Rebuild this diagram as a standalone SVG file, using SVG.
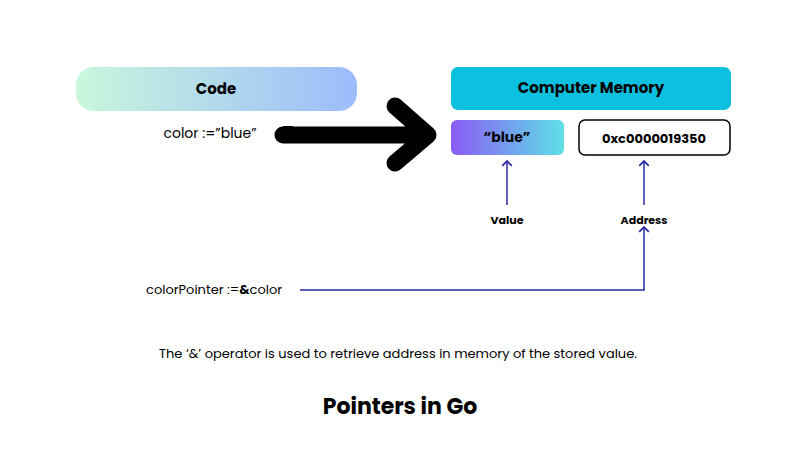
<svg xmlns="http://www.w3.org/2000/svg" width="800" height="450" viewBox="0 0 800 450">
<style>
text{font-family:Poppins,"Inter","Liberation Sans",sans-serif;fill:#000}
.b{font-weight:700}
.c{stroke:#2a2aa8;stroke-width:1.5;fill:none}
</style>
<defs>
<linearGradient id="g1" x1="0" x2="1"><stop offset="0" stop-color="#c8f7dc"/><stop offset="1" stop-color="#9bbcfb"/></linearGradient>
<linearGradient id="g2" x1="0" x2="1"><stop offset="0" stop-color="#8a5cf6"/><stop offset="1" stop-color="#5ee0e6"/></linearGradient>
<marker id="ah" viewBox="0 0 10 10" refX="5" refY="5" markerWidth="8" markerHeight="8" orient="auto"><path d="M1,1 L5,5 L1,9" fill="none" stroke="#2a2aa8" stroke-width="1.5"/></marker>
</defs>
<rect width="800" height="450" fill="#fff"/>
<g id="code"><rect x="76" y="67" width="281" height="44" rx="18" fill="url(#g1)"/><text x="216" y="94" text-anchor="middle" class="b" font-size="15">Code</text></g>
<g id="stmt"><text x="210" y="138" text-anchor="middle" font-size="14">color :=”blue”</text></g>
<g id="bigarrow"><path d="M283,135 H425 M395,106 L428,135 L395,163" stroke="#000" stroke-width="17" fill="none" stroke-linecap="round" stroke-linejoin="round"/><rect x="283" y="126" width="10" height="17" fill="#000"/></g>
<g id="mem"><rect x="451" y="67" width="280" height="43" rx="7" fill="#0cc0df"/><text x="591" y="93" text-anchor="middle" class="b" font-size="15">Computer Memory</text></g>
<g id="value"><rect x="451" y="120" width="113" height="35" rx="6" fill="url(#g2)"/><text x="507" y="142" text-anchor="middle" class="b" font-size="14">“blue”</text></g>
<g id="addr"><rect x="579" y="120" width="151" height="35" rx="6" fill="#fff" stroke="#000" stroke-width="1.5"/><text x="654" y="143" text-anchor="middle" class="b" font-size="13">0xc0000019350</text></g>
<g id="lv"><text x="507" y="224" text-anchor="middle" class="b" font-size="11">Value</text></g>
<g id="la"><text x="644" y="224" text-anchor="middle" class="b" font-size="11">Address</text></g>
<g id="ptr"><text x="146" y="294" font-size="13">colorPointer :=<tspan class="b">&amp;</tspan>color</text></g>
<g id="connectors">
<path class="c" d="M507,205 V161" marker-end="url(#ah)"/>
<path class="c" d="M644,205 V161" marker-end="url(#ah)"/>
<path class="c" d="M300,290 H644 V227" marker-end="url(#ah)"/>
</g>
<text x="398" y="358" text-anchor="middle" font-size="13">The ‘&amp;’ operator is used to retrieve address in memory of the stored value.</text>
<text x="400" y="414" text-anchor="middle" class="b" font-size="22">Pointers in Go</text>
</svg>
